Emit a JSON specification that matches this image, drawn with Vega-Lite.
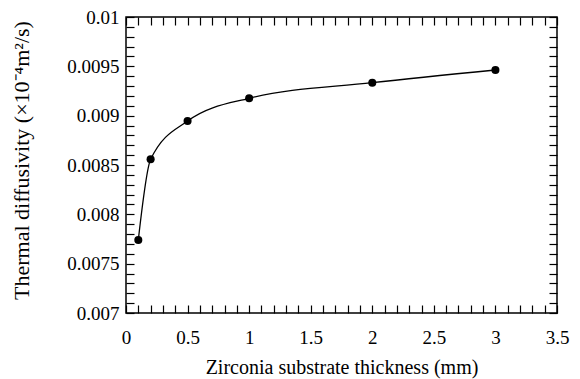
{
  "$schema": "https://vega.github.io/schema/vega-lite/v6.json",
  "width": 431,
  "height": 296,
  "autosize": {"type": "none"},
  "padding": {"left": 126, "top": 17, "right": 23, "bottom": 66},
  "background": "white",
  "config": {
    "view": {"stroke": "black", "strokeWidth": 1.5},
    "font": "Liberation Serif",
    "axis": {
      "labelFont": "Liberation Serif",
      "titleFont": "Liberation Serif",
      "labelColor": "black",
      "titleColor": "black",
      "titleFontWeight": "normal",
      "labelFontSize": 19,
      "titleFontSize": 20,
      "domain": false,
      "grid": false,
      "tickColor": "black",
      "tickWidth": 1.2,
      "tickSize": -8,
      "labelOverlap": false,
      "labelFlush": false,
      "labelBound": false
    }
  },
  "data": {
    "values": [
      {"thickness": 0.1, "diffusivity": 0.00774},
      {"thickness": 0.2, "diffusivity": 0.008558},
      {"thickness": 0.5, "diffusivity": 0.008946},
      {"thickness": 1.0, "diffusivity": 0.009176},
      {"thickness": 2.0, "diffusivity": 0.009334},
      {"thickness": 3.0, "diffusivity": 0.009463}
    ]
  },
  "layer": [
    {
      "mark": {"type": "line", "interpolate": "monotone", "color": "black", "strokeWidth": 1.3},
      "encoding": {
        "x": {
          "field": "thickness", "type": "quantitative",
          "scale": {"domain": [0, 3.5], "nice": false, "zero": false},
          "axis": {
            "orient": "bottom",
            "title": "Zirconia substrate thickness (mm)",
            "values": [0,0.1,0.2,0.3,0.4,0.5,0.6,0.7,0.8,0.9,1,1.1,1.2,1.3,1.4,1.5,1.6,1.7,1.8,1.9,2,2.1,2.2,2.3,2.4,2.5,2.6,2.7,2.8,2.9,3,3.1,3.2,3.3,3.4,3.5],
            "labelExpr": "abs(round(datum.value*10) % 5) == 0 ? format(datum.value, '~g') : ''",
            "tickSize": -8,
            "labelPadding": 23,
            "titleX": 215.5,
            "titleY": 44,
            "titleBaseline": "top",
            "encode": {"ticks": {"update": {"y2": [{"test": "abs(round(datum.value*10) % 5) == 0", "value": -8}, {"value": -4}]}}}
          }
        },
        "y": {
          "field": "diffusivity", "type": "quantitative",
          "scale": {"domain": [0.007, 0.01], "nice": false, "zero": false},
          "axis": {
            "orient": "left",
            "title": "Thermal diffusivity (×10⁻⁴m²/s)",
            "titleFontSize": 22,
            "values": [0.007,0.0071,0.0072,0.0073,0.0074,0.0075,0.0076,0.0077,0.0078,0.0079,0.008,0.0081,0.0082,0.0083,0.0084,0.0085,0.0086,0.0087,0.0088,0.0089,0.009,0.0091,0.0092,0.0093,0.0094,0.0095,0.0096,0.0097,0.0098,0.0099,0.01],
            "labelExpr": "abs(round(datum.value*10000) % 5) == 0 ? format(datum.value, '~g') : ''",
            "tickSize": -8,
            "labelPadding": 15,
            "titleX": -93,
            "titleY": 143,
            "titleBaseline": "bottom",
            "encode": {"ticks": {"update": {"x2": [{"test": "abs(round(datum.value*10000) % 5) == 0", "value": 8}, {"value": 4}]}}}
          }
        }
      }
    },
    {
      "mark": {"type": "point", "filled": true, "color": "black", "size": 65, "opacity": 1},
      "encoding": {
        "x": {"field": "thickness", "type": "quantitative", "axis": null},
        "y": {"field": "diffusivity", "type": "quantitative", "axis": null}
      }
    },
    {
      "mark": {"type": "point", "opacity": 0},
      "encoding": {
        "x": {
          "field": "thickness", "type": "quantitative",
          "axis": {
            "orient": "top",
            "title": null,
            "values": [0,0.1,0.2,0.3,0.4,0.5,0.6,0.7,0.8,0.9,1,1.1,1.2,1.3,1.4,1.5,1.6,1.7,1.8,1.9,2,2.1,2.2,2.3,2.4,2.5,2.6,2.7,2.8,2.9,3,3.1,3.2,3.3,3.4,3.5],
            "labels": false,
            "tickSize": -8,
            "encode": {"ticks": {"update": {"y2": [{"test": "abs(round(datum.value*10) % 5) == 0", "value": 8}, {"value": 4}]}}}
          }
        },
        "y": {
          "field": "diffusivity", "type": "quantitative",
          "axis": {
            "orient": "right",
            "title": null,
            "values": [0.007,0.0071,0.0072,0.0073,0.0074,0.0075,0.0076,0.0077,0.0078,0.0079,0.008,0.0081,0.0082,0.0083,0.0084,0.0085,0.0086,0.0087,0.0088,0.0089,0.009,0.0091,0.0092,0.0093,0.0094,0.0095,0.0096,0.0097,0.0098,0.0099,0.01],
            "labels": false,
            "tickSize": -8,
            "encode": {"ticks": {"update": {"x2": [{"test": "abs(round(datum.value*10000) % 5) == 0", "value": -8}, {"value": -4}]}}}
          }
        }
      }
    }
  ],
  "resolve": {"axis": {"x": "independent", "y": "independent"}}
}
